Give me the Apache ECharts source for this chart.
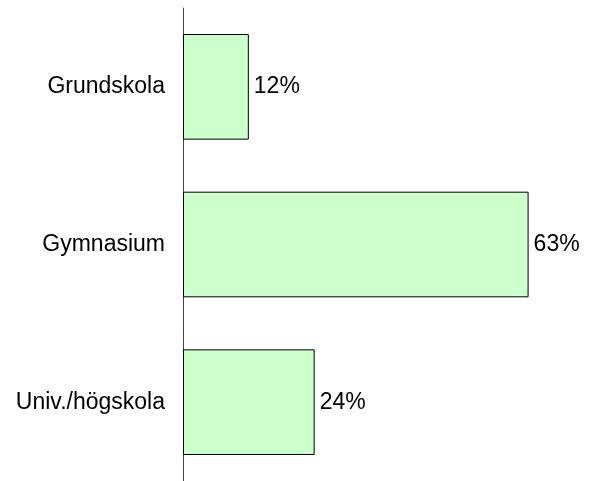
<!DOCTYPE html>
<html>
<head>
<meta charset="utf-8">
<script src="https://cdn.jsdelivr.net/npm/echarts@6/dist/echarts.min.js"></script>
<style>
html, body { margin: 0; padding: 0; background: #fff; }
#chart { width: 591px; height: 481px; }
</style>
</head>
<body>
<div id="chart"></div>
<script>
// utbildningsnivå
const categories = ['Grundskola', 'Gymnasium', 'Univ./högskola']
const values = [12, 63, 24]

const myChart = echarts.init(document.getElementById('chart'))
const option = {
  animation: false,
  grid: {
    left: 183,
    right: 24,
    top: 8,
    bottom: 0
  },
  xAxis: {
    type: 'value',
    min: 0,
    max: 70,
    show: false
  },
  yAxis: {
    type: 'category',
    data: categories,
    inverse: true,
    axisLine: { show: true, lineStyle: { color: '#444', width: 1 } },
    axisTick: { show: false },
    axisLabel: {
      color: '#000',
      fontFamily: 'Liberation Sans',
      fontSize: 23,
      margin: 18
    }
  },
  series: [
    {
      type: 'bar',
      data: values,
      barCategoryGap: '33%',
      itemStyle: {
        color: '#ccffcc',
        borderColor: '#000',
        borderWidth: 1
      },
      label: {
        show: true,
        position: 'right',
        distance: 5,
        formatter: '{c}%',
        color: '#000',
        fontFamily: 'Liberation Sans',
        fontSize: 23
      }
    }
  ]
}
myChart.setOption(option)
</script>
</body>
</html>
